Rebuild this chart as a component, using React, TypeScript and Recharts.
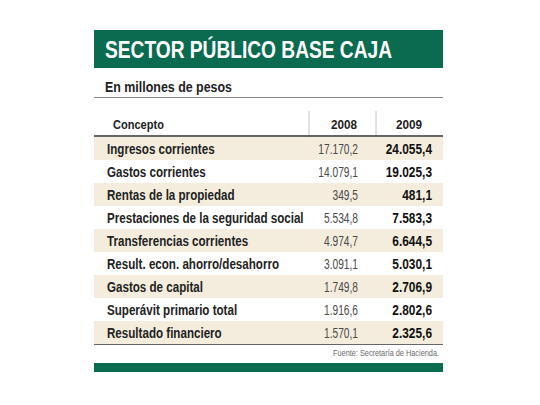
import React from 'react';
import { BarChart, Bar, XAxis, YAxis, Cell, LabelList, Customized } from 'recharts';

const TITLE = 'SECTOR PÚBLICO BASE CAJA';
const SUBTITLE = 'En millones de pesos';
const SOURCE = 'Fuente: Secretaría de Hacienda.';
const HEAD_LABEL = 'Concepto';
const YEARS = ['2008', '2009'];

const CONCEPTS = [
  'Ingresos corrientes',
  'Gastos corrientes',
  'Rentas de la propiedad',
  'Prestaciones de la seguridad social',
  'Transferencias corrientes',
  'Result. econ. ahorro/desahorro',
  'Gastos de capital',
  'Superávit primario total',
  'Resultado financiero',
];
const VALUES_2008 = [17170.2, 14079.1, 349.5, 5534.8, 4974.7, 3091.1, 1749.8, 1916.6, 1570.1];
const VALUES_2009 = [24055.4, 19025.3, 481.1, 7583.3, 6644.5, 5030.1, 2706.9, 2802.6, 2325.6];

const GREEN = '#0b6b50';
const STRIPE = '#f4eddd';
const FONT = '"Liberation Sans", Arial, sans-serif';

// formato es-AR: 17.170,2
function fmt(v: number) {
  const [i, d] = v.toFixed(1).split('.');
  return i.replace(/\B(?=(\d{3})+(?!\d))/g, '.') + ',' + d;
}

const rows = CONCEPTS.map((c, i) => ({
  concepto: c,
  v2008: VALUES_2008[i],
  v2009: VALUES_2009[i],
  band: 1,
}));

// texto "condensado": fuente normal comprimida en horizontal
function Narrow({ x, y, sx, anchor = 'start', size, weight, color, children }: any) {
  return (
    <text
      transform={`translate(${x},${y}) scale(${sx},1)`}
      textAnchor={anchor}
      fontFamily={FONT}
      fontSize={size}
      fontWeight={weight}
      fill={color}
    >
      {children}
    </text>
  );
}

const cellText = (dx: number, anchor: 'start' | 'end', sx: number, size: number, weight: number, color: string, f?: (v: any) => string) =>
  (props: any) => {
    const { x, y, height, value } = props;
    return (
      <Narrow x={x + dx} y={y + height / 2 + 5.5} sx={sx} anchor={anchor} size={size} weight={weight} color={color}>
        {f ? f(value) : value}
      </Narrow>
    );
  };

function Frame() {
  return (
    <g fontFamily={FONT}>
      <rect x={94} y={30} width={349} height={38} fill={GREEN} />
      <text x={105} y={58} fill="#fff" fontSize={23} fontWeight={700} textLength={287} lengthAdjust="spacingAndGlyphs">
        {TITLE}
      </text>
      <text x={105} y={92} fill="#222" fontSize={15} fontWeight={700} textLength={127} lengthAdjust="spacingAndGlyphs">
        {SUBTITLE}
      </text>
      <line x1={94} x2={443} y1={97.5} y2={97.5} stroke="#888" strokeWidth={1} />
      <Narrow x={113} y={129} sx={0.85} size={13} weight={700} color="#222">
        {HEAD_LABEL}
      </Narrow>
      <Narrow x={357} y={129} sx={0.9} anchor="end" size={13} weight={700} color="#222">
        {YEARS[0]}
      </Narrow>
      <Narrow x={422} y={129} sx={0.9} anchor="end" size={13} weight={700} color="#222">
        {YEARS[1]}
      </Narrow>
      <line x1={309} x2={309} y1={111} y2={344} stroke="#c4c4c4" strokeWidth={1} />
      <line x1={376} x2={376} y1={111} y2={344} stroke="#c4c4c4" strokeWidth={1} />
      <line x1={94} x2={443} y1={136} y2={136} stroke="#333" strokeWidth={1.6} />
      <line x1={94} x2={443} y1={321} y2={321} stroke="#333" strokeWidth={1.6} />
      <line x1={94} x2={443} y1={344} y2={344} stroke="#333" strokeWidth={1.6} />
      <text x={333} y={356} fill="#6a6a6a" fontSize={9} textLength={106} lengthAdjust="spacingAndGlyphs">
        {SOURCE}
      </text>
      <rect x={94} y={363} width={349} height={9} fill={GREEN} />
    </g>
  );
}

export default function App() {
  return (
    <div style={{ position: 'absolute', left: 0, top: 0, width: 540, height: 405, background: '#fff' }}>
      <BarChart
        width={540}
        height={405}
        data={rows}
        layout="vertical"
        barCategoryGap={0}
        margin={{ top: 137, right: 97, bottom: 61, left: 94 }}
      >
        <XAxis type="number" domain={[0, 1]} hide />
        <YAxis type="category" dataKey="concepto" hide />
        <Bar dataKey="band" isAnimationActive={false}>
          {rows.map((_, i) => (
            <Cell key={i} fill={i % 2 === 0 ? STRIPE : '#fff'} />
          ))}
          <LabelList dataKey="concepto" content={cellText(13, 'start', 0.8, 14.5, 700, '#222')} />
          <LabelList dataKey="v2008" content={cellText(264, 'end', 0.68, 15, 400, '#4a4a4a', fmt)} />
          <LabelList dataKey="v2009" content={cellText(338, 'end', 0.82, 14.5, 700, '#111', fmt)} />
        </Bar>
        <Customized component={<Frame />} />
      </BarChart>
    </div>
  );
}
